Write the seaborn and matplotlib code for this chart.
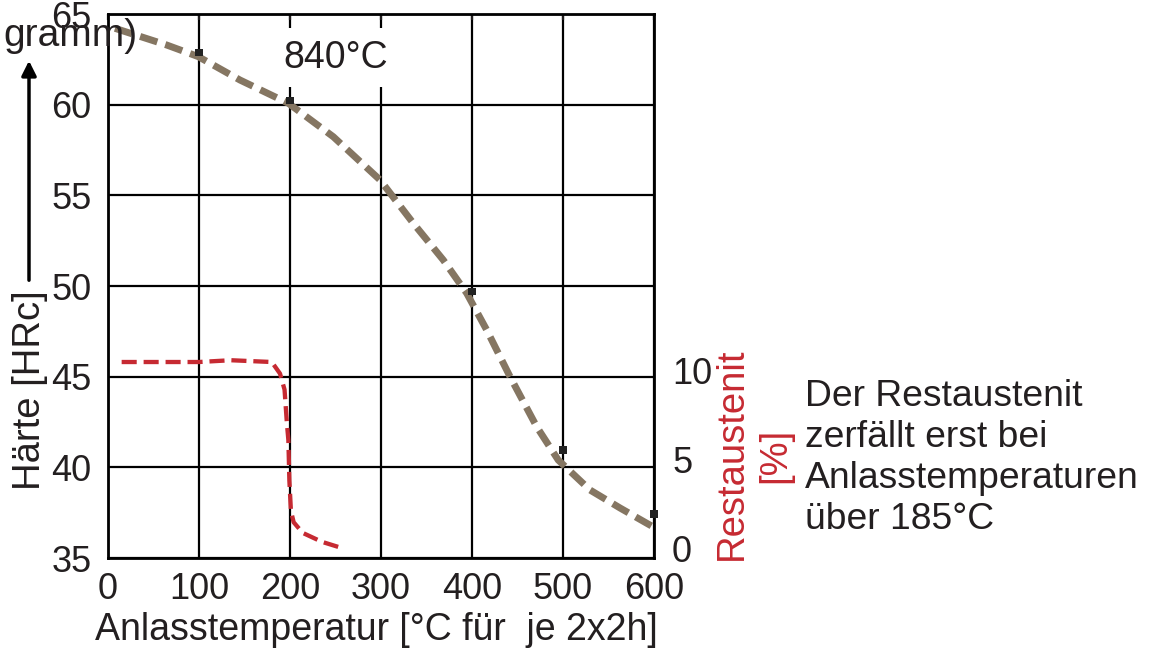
import numpy as np
import pandas as pd
import matplotlib
matplotlib.use("Agg")
import matplotlib.pyplot as plt
import seaborn as sns

# hardness curve (HRc) vs tempering temperature
haerte_temp = [7.7, 64.5, 99.2, 145, 198.1, 247.6, 298.9, 335.5, 368.5, 394.2,
               416.2, 441.8, 471.1, 494.8, 529.7, 562.6, 597.5]
haerte_hrc = [64.21, 63.29, 62.65, 61.36, 60.08, 58.23, 55.85, 53.46, 51.43, 49.6,
              47.57, 45.0, 42.24, 40.4, 38.75, 37.76, 36.76]

# measured points (black squares)
mess_temp = [100, 200, 400, 500, 600]
mess_hrc = [62.87, 60.22, 49.69, 40.96, 37.41]

# retained austenite (%) vs tempering temperature
ra_temp = [15, 100, 135, 180, 189, 194, 196.6, 198.2, 199.3, 201, 204, 214, 235, 257]
ra_proz = [10.45, 10.45, 10.55, 10.45, 9.8, 8.9, 7.0, 6.07, 3.8, 2.1, 1.45, 0.85, 0.35, 0.0]

x_ticks = [0, 100, 200, 300, 400, 500, 600]
y_ticks = [35, 40, 45, 50, 55, 60, 65]
ra_ticks = [0, 5, 10]

sns.set_style("white")
plt.rcParams['font.family'] = ['Liberation Sans', 'DejaVu Sans']
plt.rcParams['text.color'] = "#231f20"
plt.rcParams['xtick.color'] = "#231f20"
plt.rcParams['ytick.color'] = "#231f20"
FS = 26
FL = 27
grau = "#857662"
rot = "#c62a32"

W, H = 1153, 649
fig = plt.figure(figsize=(W / 100, H / 100), dpi=100)
ax = fig.add_axes([108 / W, 1 - 558 / H, (654 - 108) / W, (558 - 14) / H])

df_h = pd.DataFrame({"temp": haerte_temp, "hrc": haerte_hrc})
df_m = pd.DataFrame({"temp": mess_temp, "hrc": mess_hrc})
df_ra = pd.DataFrame({"temp": ra_temp, "ra": ra_proz})

sns.lineplot(data=df_h, x="temp", y="hrc", ax=ax, color=grau, lw=5,
             dashes=False, zorder=4)
ax.lines[-1].set_dashes((2.6, 1.2))
sns.scatterplot(data=df_m, x="temp", y="hrc", ax=ax, marker="s", s=30,
                color="#222222", edgecolor="none", zorder=5, clip_on=False)

ax.set_xlim(0, 600)
ax.set_ylim(35, 65)
ax.set_xticks(x_ticks)
ax.set_yticks(y_ticks)
ax.grid(True, color="black", lw=1.6)
ax.set_axisbelow(True)
for s in ax.spines.values():
    s.set_color("black")
    s.set_linewidth(2)
ax.tick_params(axis="x", top=True, direction="in", length=4, width=1.6,
               labelsize=FS, pad=10)
ax.tick_params(axis="y", length=0, labelsize=FS, pad=12)
ax.set_xlabel("")
ax.set_ylabel("")

ax.text(250, 62.6, "840°C", fontsize=27, ha="center", va="center", zorder=3,
        bbox=dict(fc="white", ec="none", pad=8))

# second axis for retained austenite
ax2 = ax.twinx()
sns.lineplot(data=df_ra, x="temp", y="ra", ax=ax2, color=rot, lw=3.1,
             dashes=False, zorder=4)
ax2.lines[-1].set_dashes((3.5, 1.6))
ax2.set_ylim(-0.56, 30.0)
ax2.set_yticks(ra_ticks)
ax2.tick_params(axis="y", length=0, labelsize=FS, pad=13)
ax2.set_ylabel("")
for s in ax2.spines.values():
    s.set_visible(False)

# labels
fig.text(376 / W, 1 - 630 / H, "Anlasstemperatur [°C für  je 2x2h]",
         fontsize=FL, ha="center", va="center")
fig.text(30 / W, 1 - 390 / H, "Härte [HRc]", fontsize=27.5, rotation=90,
         ha="center", va="center")
fig.add_artist(matplotlib.patches.FancyArrowPatch(
    (29 / W, 1 - 283 / H), (29 / W, 1 - 58 / H), transform=fig.transFigure,
    arrowstyle="-|>", mutation_scale=22, lw=2.5, color="black"))
fig.text(732 / W, 1 - 454 / H, "Restaustenit", fontsize=27.5, rotation=90,
         ha="center", va="center", color=rot)
fig.text(775 / W, 1 - 455 / H, "[%]", fontsize=27.5, rotation=90,
         ha="center", va="center", color=rot)
fig.text(805 / W, 1 - 458 / H,
         "Der Restaustenit\nzerfällt erst bei\nAnlasstemperaturen\nüber 185°C",
         fontsize=26.8, ha="left", va="center", linespacing=1.21)
fig.text(3 / W, 1 - 36 / H, "gramm)", fontsize=28, ha="left", va="center")

fig.savefig("out.png", dpi=100)
